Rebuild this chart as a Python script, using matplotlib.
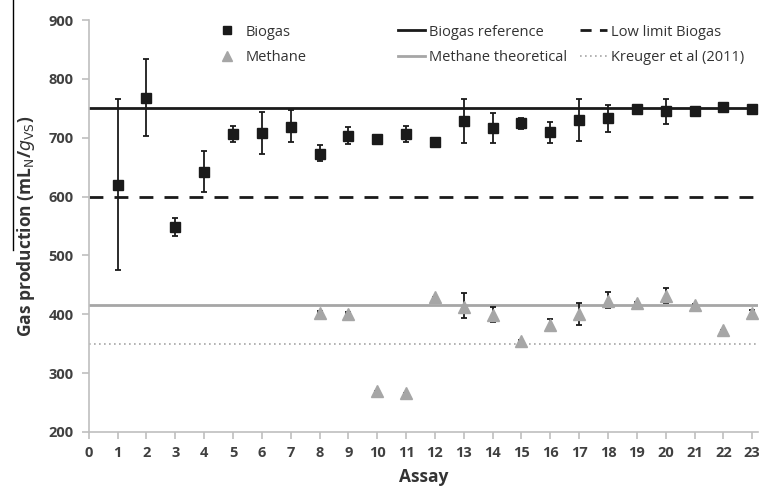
import matplotlib.pyplot as plt
import matplotlib.lines as mlines

# assay numbers
assay_biogas = list(range(1, 24))
biogas = [620, 768, 548, 642, 706, 708, 719, 673, 703, 697, 706, 693,
          728, 716, 725, 709, 730, 734, 749, 745, 745, 752, 748]
biogas_low = [476, 703, 533, 608, 692, 673, 692, 661, 690, 697, 692, 693,
              691, 691, 714, 691, 694, 710, 749, 723, 738, 752, 743]
biogas_high = [765, 833, 563, 677, 720, 743, 747, 687, 718, 697, 720, 693,
               766, 742, 734, 727, 766, 755, 749, 766, 752, 752, 753]

assay_methane = list(range(8, 24))
methane = [403, 401, 270, 267, 429, 413, 399, 355, 381, 400, 423, 419,
           431, 415, 374, 403]
methane_low = [403, 401, 270, 267, 429, 394, 387, 355, 372, 382, 411, 419,
               420, 415, 374, 393]
methane_high = [406, 404, 270, 267, 429, 436, 412, 357, 392, 420, 437, 421,
                444, 418, 374, 408]

# reference values
biogas_ref = 750
low_limit = 600
methane_theo = 415
kreuger = 350

x_ticks = list(range(0, 24))
y_ticks = list(range(200, 901, 100))

plt.rcParams['font.family'] = ['Open Sans', 'DejaVu Sans']
txt = '#333333'
grey = '#a6a6a6'
black = '#1a1a1a'

fig = plt.figure(figsize=(7.59, 4.88), dpi=100)
ax = fig.add_axes([0.117, 0.1148, 0.8817, 0.8442])

ax.axhline(biogas_ref, color=black, lw=2, zorder=1)
ax.axhline(low_limit, color=black, lw=2, dashes=(5, 4), zorder=1)
ax.axhline(methane_theo, color=grey, lw=2, zorder=1)
ax.axhline(kreuger, color=grey, lw=1.2, dashes=(1, 2), zorder=1)

b_err = [[v - lo for v, lo in zip(biogas, biogas_low)],
         [hi - v for v, hi in zip(biogas, biogas_high)]]
m_err = [[v - lo for v, lo in zip(methane, methane_low)],
         [hi - v for v, hi in zip(methane, methane_high)]]

ax.errorbar(assay_biogas, biogas, yerr=b_err, fmt='s', color=black,
            ms=7.5, ecolor=black, elinewidth=1.3, capsize=2.5,
            capthick=1.3, zorder=3)
ax.errorbar(assay_methane, methane, yerr=m_err, fmt='^', color=grey,
            ms=9, ecolor=black, elinewidth=1.3, capsize=2.5,
            capthick=1.3, zorder=3)

ax.set_xlim(0, 23.2)
ax.set_ylim(200, 900)
ax.set_xticks(x_ticks, [str(v) for v in x_ticks], fontweight='bold')
ax.set_yticks(y_ticks, [str(v) for v in y_ticks], fontweight='bold')
for s in ['top', 'right']:
    ax.spines[s].set_visible(False)
for s in ['left', 'bottom']:
    ax.spines[s].set_color('#bfbfbf')
    ax.spines[s].set_linewidth(1.2)
ax.tick_params(axis='both', colors='#bfbfbf', labelcolor='#404040', labelsize=10.5,
               length=5, width=1.2)
ax.tick_params(axis='x', pad=5)
ax.tick_params(axis='y', pad=6)

ax.set_xlabel('Assay', fontsize=12.5, color=txt, fontweight='bold', labelpad=6)
ax.set_ylabel(r'Gas production (mL$_\mathrm{N}$/$g_\mathrm{VS}$)', fontsize=12.5,
              color=txt, fontweight='bold', labelpad=8)

# legend in three columns, placed like the original
cols = [
    ([mlines.Line2D([], [], color=black, marker='s', ls='none', ms=6),
      mlines.Line2D([], [], color=grey, marker='^', ls='none', ms=6.5)],
     ['Biogas', 'Methane'], 214),
    ([mlines.Line2D([], [], color=black, lw=2),
      mlines.Line2D([], [], color=grey, lw=2)],
     ['Biogas reference', 'Methane theoretical'], 398),
    ([mlines.Line2D([], [], color=black, lw=2, dashes=(4, 3)),
      mlines.Line2D([], [], color=grey, lw=1.2, dashes=(1, 2))],
     ['Low limit Biogas', 'Kreuger et al (2011)'], 580),
]
for handles, labels, xpix in cols:
    leg = fig.legend(handles, labels, loc='center left',
                     bbox_to_anchor=(xpix / 759, 1 - 45 / 488),
                     frameon=False, fontsize=10.5, handlelength=1.85,
                     handletextpad=0.3, labelspacing=0.75, borderpad=0,
                     borderaxespad=0)
    for t in leg.get_texts():
        t.set_color(txt)

# stray crop line at the left edge
fig.add_artist(mlines.Line2D([0.017, 0.017], [1.0, 0.487], color='black', lw=1))

fig.savefig('out.png', dpi=100)
